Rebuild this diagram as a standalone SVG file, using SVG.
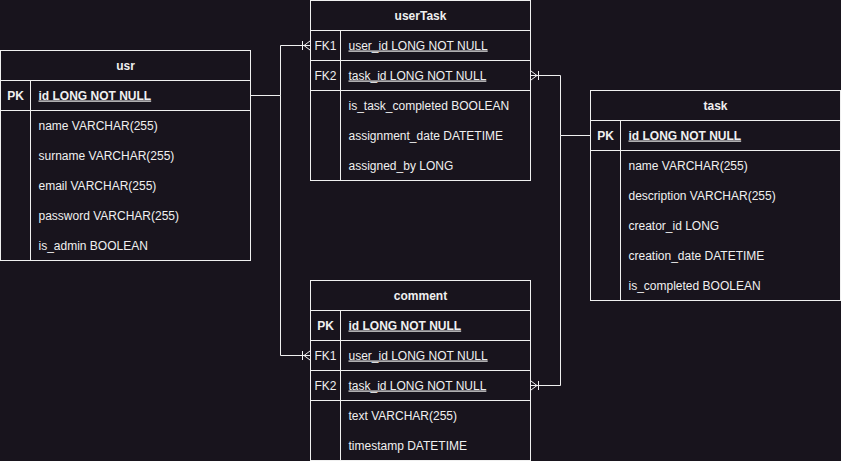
<svg xmlns="http://www.w3.org/2000/svg" width="841" height="461" viewBox="0 0 841 461">
<style>
.bg{fill:#18141d}
.box{fill:#18141d;stroke:#f0f0f0;stroke-width:1}
.ln{stroke:#f0f0f0;stroke-width:1;fill:none}
text{font-family:"Liberation Sans",Arial,Helvetica,sans-serif;font-size:12px;fill:#f0f0f0}
.h{font-weight:bold;text-anchor:middle}
.k{text-anchor:middle}
.b{font-weight:bold}
.u{text-decoration:underline}
.edge{stroke:#f0f0f0;stroke-width:1;fill:none;marker-end:url(#crow)}
</style>
<defs>
<marker id="crow" markerUnits="userSpaceOnUse" viewBox="-10 -6 11 12" markerWidth="11" markerHeight="12" refX="0" refY="0" orient="auto" overflow="visible">
<path d="M-7.5,-4.5 V4.5 M-6,0 L0,-4.5 M-6,0 L0,4.5" stroke="#f0f0f0" stroke-width="1" fill="none"/>
</marker>
</defs>
<rect class="bg" x="0" y="0" width="841" height="461"/>

<g id="connectors">
<path class="edge" d="M250.5,95.5 H280.5 V45.5 H310"/>
<path class="edge" d="M250.5,95.5 H280.5 V355.5 H310"/>
<path class="edge" d="M590.5,135.5 H560.5 V75.5 H531"/>
<path class="edge" d="M590.5,135.5 H560.5 V385.5 H531"/>
</g>

<g id="usr">
<rect class="box" x="0.5" y="50.5" width="250" height="210"/>
<path class="ln" d="M0.5,80.5 H250.5 M0.5,110.5 H250.5 M30.5,80.5 V260.5"/>
<text class="h" x="125.5" y="69.5">usr</text>
<text class="k b" x="15.5" y="99.5">PK</text>
<text class="b u" x="38.5" y="99.5">id LONG NOT NULL</text>
<text x="38.5" y="129.5">name VARCHAR(255)</text>
<text x="38.5" y="159.5">surname VARCHAR(255)</text>
<text x="38.5" y="189.5">email VARCHAR(255)</text>
<text x="38.5" y="219.5">password VARCHAR(255)</text>
<text x="38.5" y="249.5">is_admin BOOLEAN</text>
</g>

<g id="userTask">
<rect class="box" x="310.5" y="0.5" width="220" height="180"/>
<path class="ln" d="M310.5,30.5 H530.5 M310.5,60.5 H530.5 M310.5,90.5 H530.5 M340.5,30.5 V180.5"/>
<text class="h" x="420.5" y="19.5">userTask</text>
<text class="k" x="325.5" y="49.5">FK1</text>
<text class="u" x="348.5" y="49.5">user_id LONG NOT NULL</text>
<text class="k" x="325.5" y="79.5">FK2</text>
<text class="u" x="348.5" y="79.5">task_id LONG NOT NULL</text>
<text x="348.5" y="109.5">is_task_completed BOOLEAN</text>
<text x="348.5" y="139.5">assignment_date DATETIME</text>
<text x="348.5" y="169.5">assigned_by LONG</text>
</g>

<g id="task">
<rect class="box" x="590.5" y="90.5" width="250" height="210"/>
<path class="ln" d="M590.5,120.5 H840.5 M590.5,150.5 H840.5 M620.5,120.5 V300.5"/>
<text class="h" x="715.5" y="109.5">task</text>
<text class="k b" x="605.5" y="139.5">PK</text>
<text class="b u" x="628.5" y="139.5">id LONG NOT NULL</text>
<text x="628.5" y="169.5">name VARCHAR(255)</text>
<text x="628.5" y="199.5">description VARCHAR(255)</text>
<text x="628.5" y="229.5">creator_id LONG</text>
<text x="628.5" y="259.5">creation_date DATETIME</text>
<text x="628.5" y="289.5">is_completed BOOLEAN</text>
</g>

<g id="comment">
<rect class="box" x="310.5" y="280.5" width="220" height="180"/>
<path class="ln" d="M310.5,310.5 H530.5 M310.5,340.5 H530.5 M310.5,370.5 H530.5 M310.5,400.5 H530.5 M340.5,310.5 V460.5"/>
<text class="h" x="420.5" y="299.5">comment</text>
<text class="k b" x="325.5" y="329.5">PK</text>
<text class="b u" x="348.5" y="329.5">id LONG NOT NULL</text>
<text class="k" x="325.5" y="359.5">FK1</text>
<text class="u" x="348.5" y="359.5">user_id LONG NOT NULL</text>
<text class="k" x="325.5" y="389.5">FK2</text>
<text class="u" x="348.5" y="389.5">task_id LONG NOT NULL</text>
<text x="348.5" y="419.5">text VARCHAR(255)</text>
<text x="348.5" y="449.5">timestamp DATETIME</text>
</g>
</svg>
